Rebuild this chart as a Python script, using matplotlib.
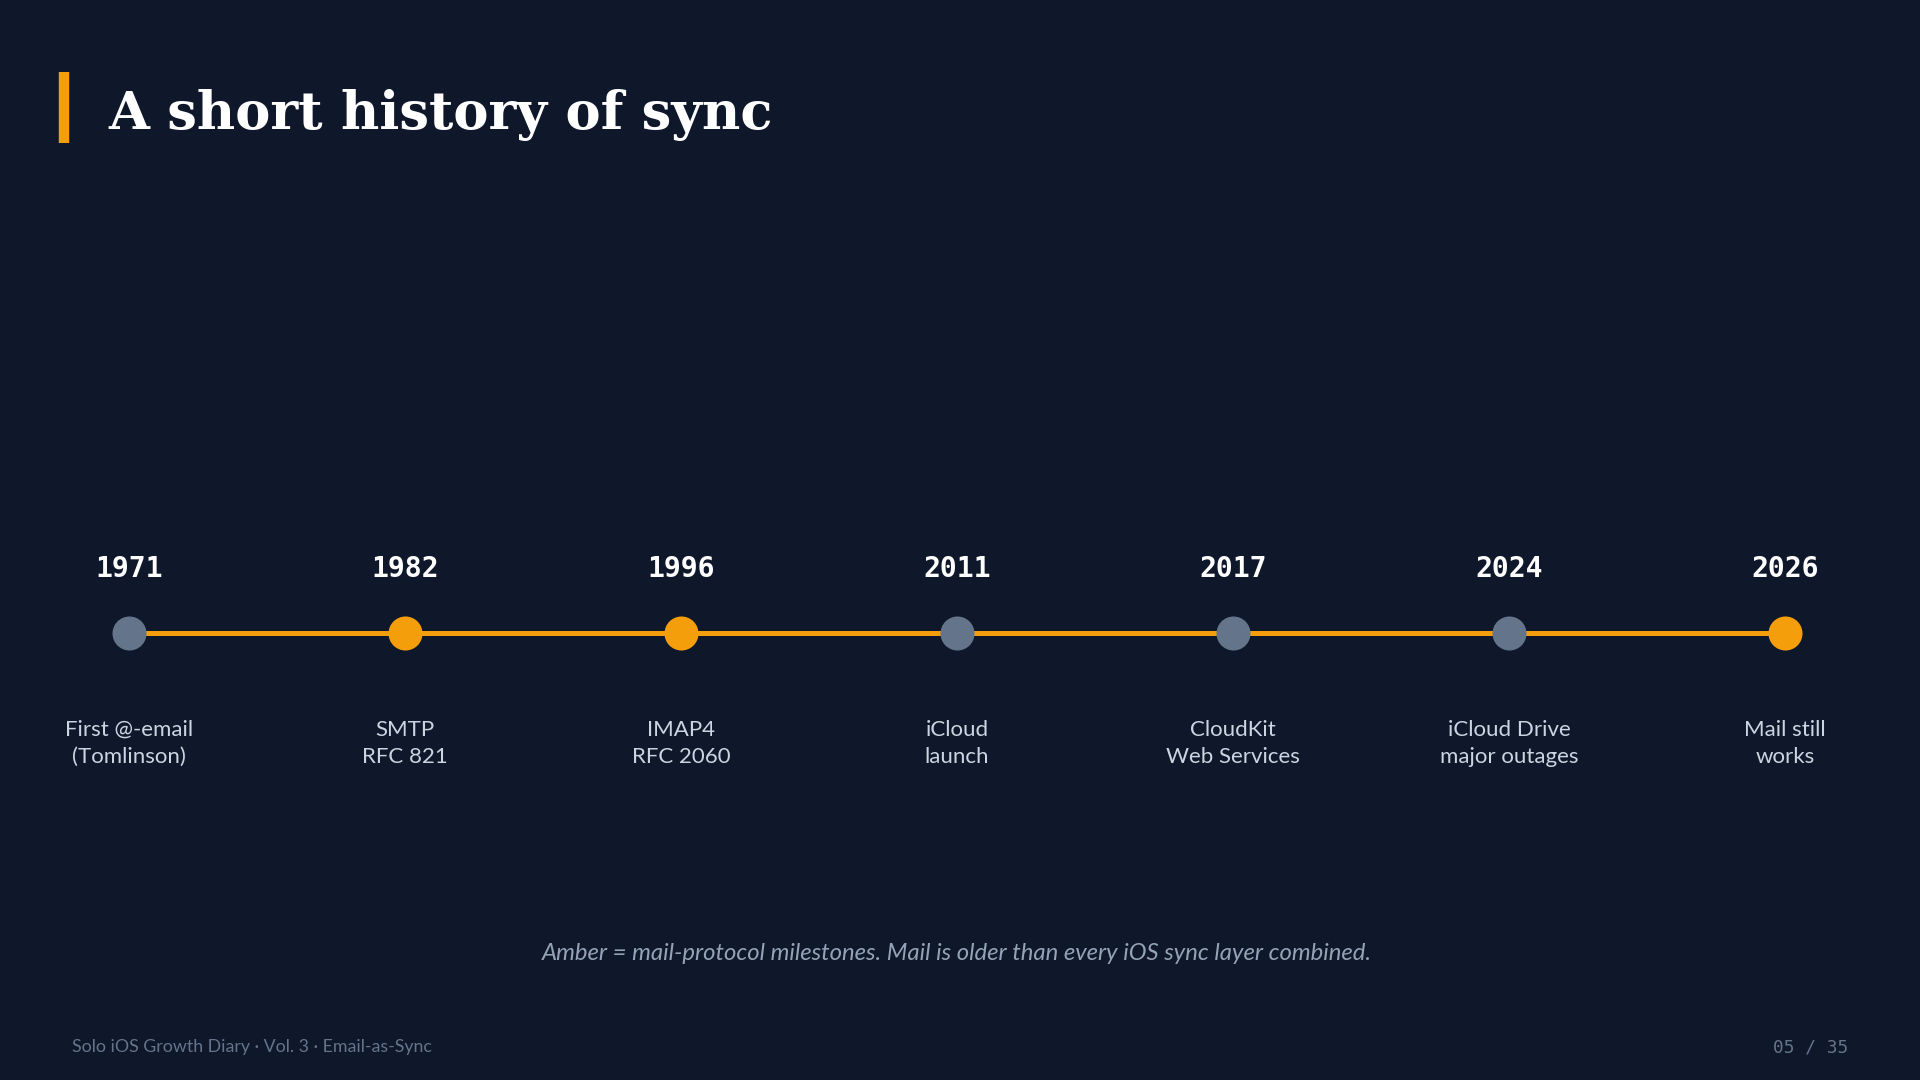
import matplotlib.pyplot as plt
from matplotlib.lines import Line2D

# timeline data
years = ['1971', '1982', '1996', '2011', '2017', '2024', '2026']
events = ['First @-email\n(Tomlinson)', 'SMTP\nRFC 821', 'IMAP4\nRFC 2060',
          'iCloud\nlaunch', 'CloudKit\nWeb Services', 'iCloud Drive\nmajor outages',
          'Mail still\nworks']
is_mail = [False, True, True, False, False, False, True]

title = 'A short history of sync'
caption = 'Amber = mail-protocol milestones. Mail is older than every iOS sync layer combined.'
footer_left = 'Solo iOS Growth Diary \u00b7 Vol. 3 \u00b7 Email-as-Sync'
footer_right = '05 / 35'

BG = '#0f172a'
AMBER = '#f59e0b'
GREY = '#64748b'

W, H = 1920, 1080
fig = plt.figure(figsize=(W / 100, H / 100), dpi=100, facecolor=BG)

# pixel-space axes for decorations / text
deco = fig.add_axes([0, 0, 1, 1])
deco.set_xlim(0, W)
deco.set_ylim(H, 0)
deco.axis('off')
deco.set_facecolor(BG)

# title + accent bar
deco.add_line(Line2D([63.5, 63.5], [72, 143], color=AMBER, linewidth=7.5, solid_capstyle='butt'))
deco.text(108, 129, title, fontsize=38, fontweight='bold', family='DejaVu Serif',
          color='white', va='baseline', ha='left')

# timeline axes: index positions, 0 -> x=129px, step 276px
ax = fig.add_axes([0, 0, 1, 1])
ax.patch.set_alpha(0)
ax.axis('off')
step = 276.0
ax.set_xlim(-129 / step, (W - 129) / step)
ax.set_ylim(H, 0)

xs = list(range(len(years)))
line_y = 633
ax.plot([xs[0], xs[-1]], [line_y, line_y], color=AMBER, linewidth=3.6, zorder=1)
for i, yr in enumerate(years):
    c = AMBER if is_mail[i] else GREY
    ax.plot(i, line_y, 'o', markersize=24.5, color=c, markeredgewidth=0, zorder=2)
    ax.text(i, 577, yr, fontsize=20.2, fontweight='bold', family='DejaVu Sans Mono',
            color='white', ha='center', va='baseline')
    ax.text(i, 720, events[i], fontsize=16, family='Lato', color='#cbd5e1',
            ha='center', va='top', linespacing=1.42, multialignment='center')

# caption + footer
deco.text(957, 960, caption, fontsize=17.2, family='Lato', style='italic',
          color='#94a3b8', ha='center', va='baseline')
deco.text(72, 1052, footer_left, fontsize=12.8, family='Lato', color=GREY,
          ha='left', va='baseline')
deco.text(1848, 1052, footer_right, fontsize=12.9, family='DejaVu Sans Mono', color=GREY,
          ha='right', va='baseline')

fig.savefig('out.png', dpi=100, facecolor=BG)
